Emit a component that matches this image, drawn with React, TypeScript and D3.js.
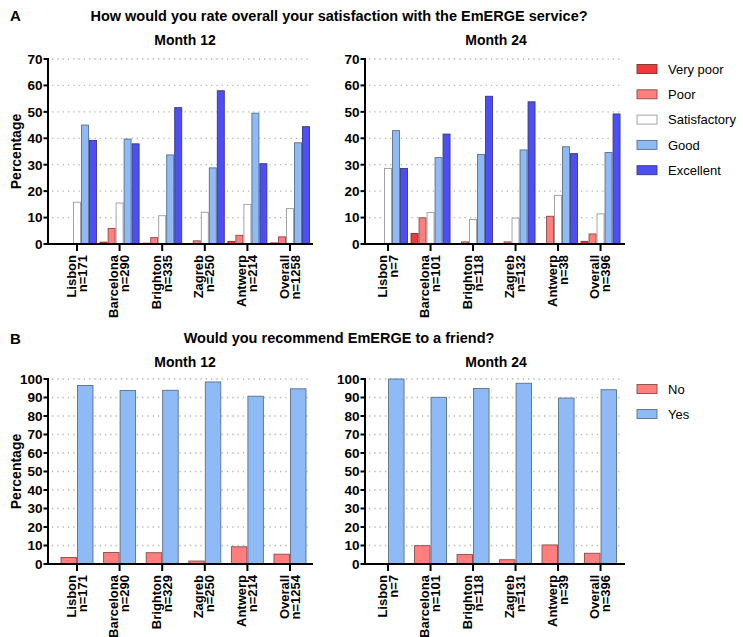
import React from 'react';
import * as d3 from 'd3';

const cities = ['Lisbon', 'Barcelona', 'Brighton', 'Zagreb', 'Antwerp', 'Overall'];
const nSatM12 = ['n=171', 'n=290', 'n=335', 'n=250', 'n=214', 'n=1258'];
const nSatM24 = ['n=7', 'n=101', 'n=118', 'n=132', 'n=38', 'n=396'];
const nRecM12 = ['n=171', 'n=290', 'n=329', 'n=250', 'n=214', 'n=1254'];
const nRecM24 = ['n=7', 'n=101', 'n=118', 'n=131', 'n=39', 'n=396'];

const satCategories = ['Very poor', 'Poor', 'Satisfactory', 'Good', 'Excellent'];
const recCategories = ['No', 'Yes'];

// Satisfaction, Month 12 (%)
const veryPoorM12 = [0, 0.7, 0.3, 0, 1.0, 0.4];
const poorM12 = [0, 5.9, 2.4, 1.2, 3.3, 2.7];
const satisfactoryM12 = [15.8, 15.5, 10.7, 12.0, 15.0, 13.4];
const goodM12 = [45.0, 39.7, 33.7, 28.8, 49.5, 38.3];
const excellentM12 = [39.2, 37.9, 51.6, 58.0, 30.4, 44.4];

// Satisfaction, Month 24 (%)
const veryPoorM24 = [0, 4.0, 0, 0, 0, 1.0];
const poorM24 = [0, 9.9, 0.8, 0.8, 10.5, 3.8];
const satisfactoryM24 = [28.6, 11.9, 9.3, 9.8, 18.4, 11.4];
const goodM24 = [42.9, 32.7, 33.9, 35.6, 36.8, 34.6];
const excellentM24 = [28.6, 41.6, 55.9, 53.8, 34.2, 49.2];

// Recommend, Month 12 / 24 (%)
const noM12 = [3.5, 6.2, 6.1, 1.6, 9.3, 5.3];
const yesM12 = [96.5, 93.8, 93.9, 98.4, 90.7, 94.7];
const noM24 = [0, 9.9, 5.1, 2.3, 10.3, 5.8];
const yesM24 = [100, 90.1, 94.9, 97.7, 89.7, 94.2];

const satTicks = [0, 10, 20, 30, 40, 50, 60, 70];
const recTicks = [0, 10, 20, 30, 40, 50, 60, 70, 80, 90, 100];

const satColors = ['#F0393C', '#FF7E7E', '#FFFFFF', '#8EBBF6', '#4E4EF6'];
const satStrokes = ['#7a3030', '#8a4a4a', '#9a9a9a', '#5a6f88', '#3a3a7a'];
const recColors = ['#FF7E7E', '#8EBBF6'];
const recStrokes = ['#8a4a4a', '#5a6f88'];

const FONT = '"Liberation Sans", Arial, Helvetica, sans-serif';

type PanelProps = {
  axisX: number;
  axisEnd: number;
  band: [number, number];
  yTop: number;
  yBottom: number;
  yMax: number;
  ticks: number[];
  series: number[][];
  colors: string[];
  strokes: string[];
  barW: number;
  nLabels: string[];
  title: string;
  titleX: number;
  titleY: number;
  showYLabel: boolean;
};

function Panel(p: PanelProps) {
  const x = d3.scaleBand<string>().domain(cities).range(p.band).padding(0);
  const y = d3.scaleLinear().domain([0, p.yMax]).range([p.yBottom, p.yTop]);
  const groupW = p.series.length * p.barW;
  return (
    <g>
      <text x={p.titleX} y={p.titleY} textAnchor="middle" fontFamily={FONT} fontWeight="bold" fontSize={14}>
        {p.title}
      </text>
      {p.showYLabel && (
        <text
          transform={`translate(21,${(p.yTop + p.yBottom) / 2}) rotate(-90)`}
          textAnchor="middle"
          fontFamily={FONT}
          fontWeight="bold"
          fontSize={14}
        >
          Percentage
        </text>
      )}
      {p.ticks.filter((t) => t > 0).map((t) => (
        <line
          key={'g' + t}
          x1={p.axisX + 4}
          x2={p.axisEnd - 2}
          y1={y(t)}
          y2={y(t)}
          stroke="#b4b4b4"
          strokeWidth={1.3}
          strokeDasharray="1.3 4"
        />
      ))}
      {cities.map((c, ci) => {
        const cx = (x(c) as number) + x.bandwidth() / 2;
        const left = cx - groupW / 2;
        return p.series.map((s, si) =>
          s[ci] > 0 ? (
            <rect
              key={c + si}
              x={left + si * p.barW + 0.5}
              y={y(s[ci])}
              width={p.barW - 1}
              height={p.yBottom - y(s[ci])}
              fill={p.colors[si]}
              stroke={p.strokes[si]}
              strokeWidth={0.9}
            />
          ) : null
        );
      })}
      <line x1={p.axisX} x2={p.axisX} y1={p.yTop - 1} y2={p.yBottom + 1} stroke="#000" strokeWidth={2} />
      {p.ticks.map((t) => (
        <g key={'t' + t}>
          <line x1={p.axisX - 4.5} x2={p.axisX} y1={y(t)} y2={y(t)} stroke="#000" strokeWidth={2} />
          <text
            x={p.axisX - 5.5}
            y={y(t)}
            dy="0.36em"
            textAnchor="end"
            fontFamily={FONT}
            fontWeight="bold"
            fontSize={13.5}
          >
            {t}
          </text>
        </g>
      ))}
      <line x1={p.axisX - 1} x2={p.axisEnd} y1={p.yBottom} y2={p.yBottom} stroke="#000" strokeWidth={2} />
      {cities.map((c, ci) => {
        const cx = (x(c) as number) + x.bandwidth() / 2;
        return (
          <g key={'x' + c}>
            <line x1={cx} x2={cx} y1={p.yBottom} y2={p.yBottom + 7} stroke="#000" strokeWidth={2} />
            <text
              transform={`translate(${cx},${p.yBottom + 11}) rotate(-90)`}
              textAnchor="end"
              fontFamily={FONT}
              fontWeight="bold"
              fontSize={13}
            >
              <tspan x={0} dy={-1.5}>{c}</tspan>
              <tspan x={0} dy={11}>{p.nLabels[ci]}</tspan>
            </text>
          </g>
        );
      })}
    </g>
  );
}

function Legend({ x, y, labels, colors, strokes, step }: { x: number; y: number; labels: string[]; colors: string[]; strokes: string[]; step: number }) {
  return (
    <g>
      {labels.map((l, i) => (
        <g key={l}>
          <rect x={x} y={y + i * step - 4.5} width={20} height={9} fill={colors[i]} stroke={strokes[i]} strokeWidth={0.9} />
          <text x={x + 31} y={y + i * step} dy="0.36em" fontFamily={FONT} fontSize={13}>
            {l}
          </text>
        </g>
      ))}
    </g>
  );
}

export default function App() {
  const satM12 = [veryPoorM12, poorM12, satisfactoryM12, goodM12, excellentM12];
  const satM24 = [veryPoorM24, poorM24, satisfactoryM24, goodM24, excellentM24];
  const recM12 = [noM12, yesM12];
  const recM24 = [noM24, yesM24];
  return (
    <div style={{ position: 'absolute', left: 0, top: 0 }}>
      <svg width={743} height={637} style={{ display: 'block', background: '#fff' }}>
        <text x={10} y={21} fontFamily={FONT} fontWeight="bold" fontSize={15}>A</text>
        <text x={339} y={21} textAnchor="middle" fontFamily={FONT} fontWeight="bold" fontSize={14.5}>
          How would you rate overall your satisfaction with the EmERGE service?
        </text>
        <Panel axisX={48} axisEnd={313} band={[55.7, 311.3]} yTop={59} yBottom={244} yMax={70} ticks={satTicks}
          series={satM12} colors={satColors} strokes={satStrokes} barW={8} nLabels={nSatM12}
          title="Month 12" titleX={185} titleY={45} showYLabel={true} />
        <Panel axisX={365} axisEnd={625} band={[366.8, 621.8]} yTop={59} yBottom={244} yMax={70} ticks={satTicks}
          series={satM24} colors={satColors} strokes={satStrokes} barW={8} nLabels={nSatM24}
          title="Month 24" titleX={496} titleY={45} showYLabel={false} />
        <Legend x={637} y={69} labels={satCategories} colors={satColors} strokes={satStrokes} step={25.3} />

        <text x={10} y={344} fontFamily={FONT} fontWeight="bold" fontSize={15}>B</text>
        <text x={339} y={343} textAnchor="middle" fontFamily={FONT} fontWeight="bold" fontSize={14.5}>
          Would you recommend EmERGE to a friend?
        </text>
        <Panel axisX={48} axisEnd={313} band={[55.7, 311.3]} yTop={379} yBottom={564} yMax={100} ticks={recTicks}
          series={recM12} colors={recColors} strokes={recStrokes} barW={16.5} nLabels={nRecM12}
          title="Month 12" titleX={185} titleY={367} showYLabel={true} />
        <Panel axisX={365} axisEnd={625} band={[366.8, 621.8]} yTop={379} yBottom={564} yMax={100} ticks={recTicks}
          series={recM24} colors={recColors} strokes={recStrokes} barW={16.5} nLabels={nRecM24}
          title="Month 24" titleX={496} titleY={367} showYLabel={false} />
        <Legend x={637} y={389} labels={recCategories} colors={recColors} strokes={recStrokes} step={25} />
      </svg>
    </div>
  );
}
